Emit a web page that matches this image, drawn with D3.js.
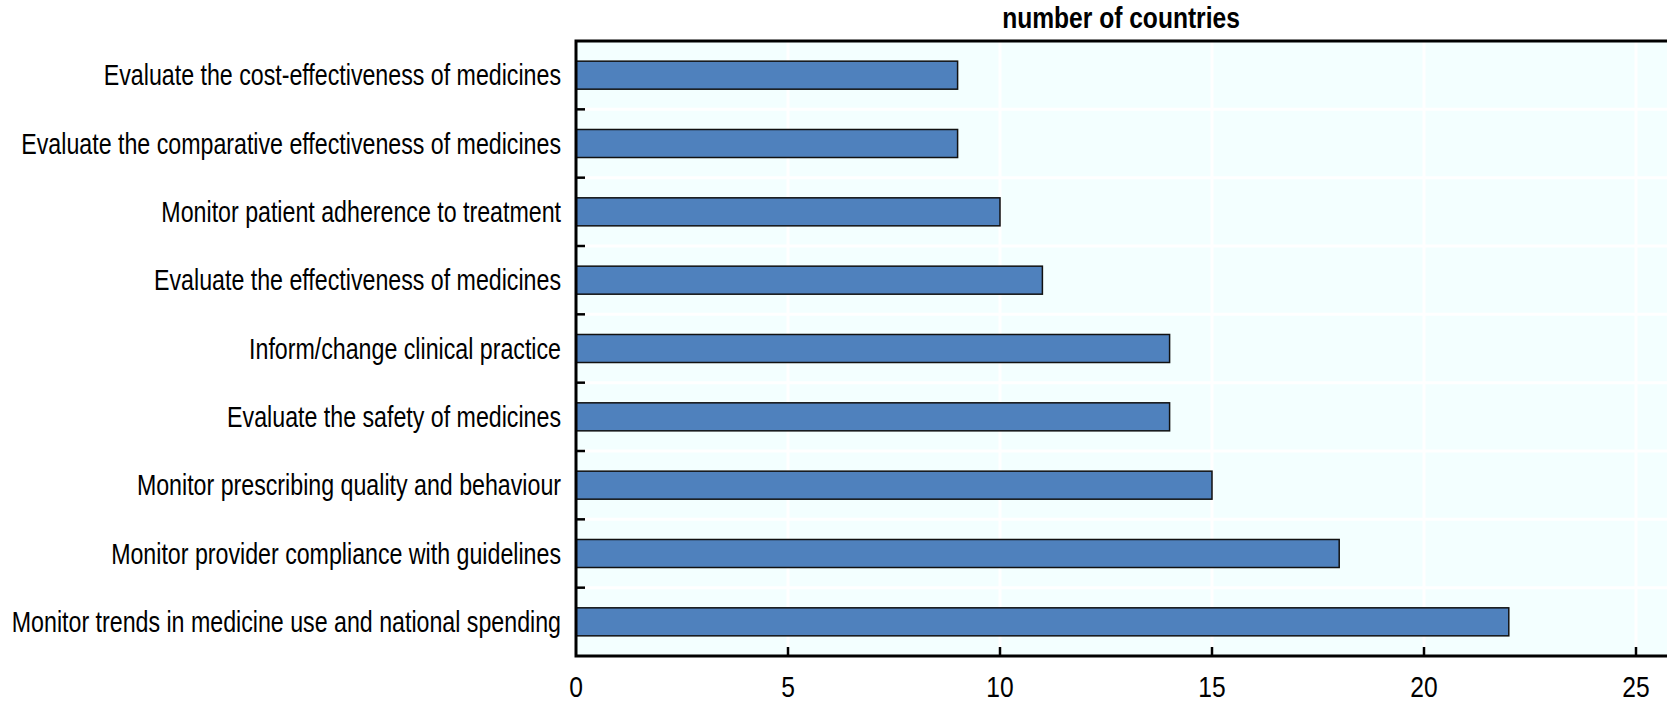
<html>
<head>
<script src="https://cdn.jsdelivr.net/npm/d3@7"></script>
<style>
  body { margin: 0; background: #fff; }
  text { font-family: "Liberation Sans", Arial, sans-serif; fill: #000; }
</style>
</head>
<body>
<svg width="1667" height="703"></svg>
<script>
// purposes of data use, top to bottom
var categories = [
  "Evaluate the cost-effectiveness of medicines",
  "Evaluate the comparative effectiveness of medicines",
  "Monitor patient adherence to treatment",
  "Evaluate the effectiveness of medicines",
  "Inform/change clinical practice",
  "Evaluate the safety of medicines",
  "Monitor prescribing quality and behaviour",
  "Monitor provider compliance with guidelines",
  "Monitor trends in medicine use and national spending"
];
var values = [9, 9, 10, 11, 14, 14, 15, 18, 22];
var xTicks = [0, 5, 10, 15, 20, 25];
var title = "number of countries";

var svg = d3.select("svg");
var pLeft = 576, pTop = 41, pBottom = 656, pRight = 1690;
var narrow = 0.82; // fake arial narrow by squeezing

var x = d3.scaleLinear().domain([0, 25]).range([pLeft, 1636]);
var y = d3.scaleBand().domain(categories).range([pTop, pBottom])
  .paddingInner(0.59).paddingOuter(0.295);

// plot background
svg.append("rect")
  .attr("x", pLeft).attr("y", pTop)
  .attr("width", pRight - pLeft).attr("height", pBottom - pTop)
  .attr("fill", "#f3ffff");

// white gridlines
svg.selectAll("line.vgrid").data(xTicks.slice(1))
  .enter().append("line")
  .attr("x1", function(d){ return x(d) }).attr("x2", function(d){ return x(d) })
  .attr("y1", pTop).attr("y2", pBottom)
  .attr("stroke", "#fff").attr("stroke-width", 3);

var seps = d3.range(1, categories.length).map(function(i){ return pTop + i * y.step() });
svg.selectAll("line.hgrid").data(seps)
  .enter().append("line")
  .attr("x1", pLeft).attr("x2", pRight)
  .attr("y1", function(d){ return d }).attr("y2", function(d){ return d })
  .attr("stroke", "#fff").attr("stroke-width", 3);

// bars
svg.selectAll("rect.bar").data(values)
  .enter().append("rect")
  .attr("class", "bar")
  .attr("x", x(0))
  .attr("y", function(d, i){ return y(categories[i]) })
  .attr("width", function(d){ return x(d) - x(0) })
  .attr("height", y.bandwidth())
  .attr("fill", "#4f81bd")
  .attr("stroke", "#111").attr("stroke-width", 1.5);

// category separator ticks on the left axis
svg.selectAll("line.ytick").data(seps)
  .enter().append("line")
  .attr("x1", pLeft).attr("x2", pLeft + 9)
  .attr("y1", function(d){ return d }).attr("y2", function(d){ return d })
  .attr("stroke", "#000").attr("stroke-width", 2.5);

// x ticks pointing inward
svg.selectAll("line.xtick").data(xTicks.slice(1))
  .enter().append("line")
  .attr("x1", function(d){ return x(d) }).attr("x2", function(d){ return x(d) })
  .attr("y1", pBottom).attr("y2", pBottom - 9)
  .attr("stroke", "#000").attr("stroke-width", 2.5);

// frame: top, left, bottom
svg.append("path")
  .attr("d", "M" + pRight + "," + pTop + "H" + pLeft + "V" + pBottom + "H" + pRight)
  .attr("fill", "none").attr("stroke", "#000").attr("stroke-width", 3);

// category labels
svg.selectAll("text.cat").data(categories)
  .enter().append("text")
  .attr("transform", function(d){
    return "translate(561," + (y(d) + y.bandwidth() / 2) + ") scale(0.8,1)";
  })
  .attr("dy", "0.35em")
  .attr("text-anchor", "end")
  .style("font-size", "29px")
  .text(function(d){ return d });

// x tick labels
svg.selectAll("text.xl").data(xTicks)
  .enter().append("text")
  .attr("transform", function(d){ return "translate(" + x(d) + ",697) scale(" + narrow + ",1)" })
  .attr("text-anchor", "middle")
  .style("font-size", "30px")
  .text(function(d){ return d });

// title
svg.append("text")
  .attr("transform", "translate(1121,28) scale(" + narrow + ",1)")
  .attr("text-anchor", "middle")
  .style("font-size", "30px").style("font-weight", "bold")
  .text(title);
</script>
</body>
</html>
